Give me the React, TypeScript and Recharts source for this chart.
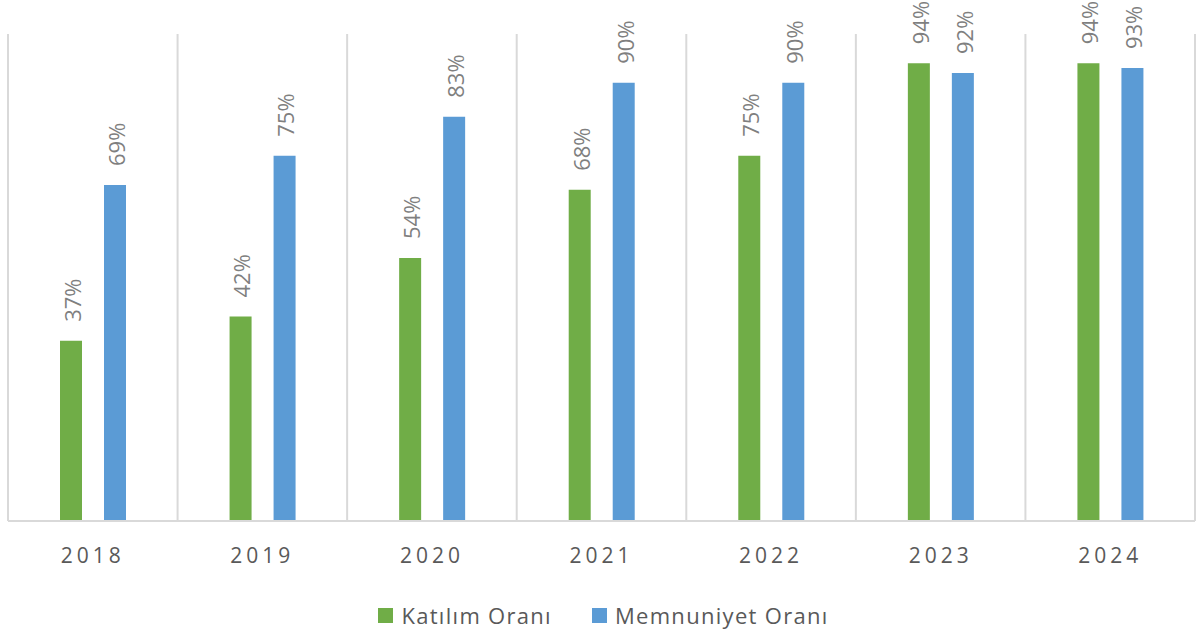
import React from "react";
import { BarChart, Bar, XAxis, YAxis, CartesianGrid, Legend, LabelList } from "recharts";

const years = ["2018", "2019", "2020", "2021", "2022", "2023", "2024"];
const katilim = [37, 42, 54, 68, 75, 94, 94];
const memnuniyet = [69, 75, 83, 90, 90, 92, 93];
const seriesNames = ["Katılım Oranı", "Memnuniyet Oranı"];
const colors = ["#70ad47", "#5b9bd5"];

const data = years.map((y, i) => ({ year: y, katilim: katilim[i], memnuniyet: memnuniyet[i] }));

const FONT = "'Open Sans', 'DejaVu Sans', sans-serif";

const RotLabel = (props: any) => {
  const { x, y, width, value } = props;
  const cx = x + width / 2 + 2;
  const cy = y - 19;
  return (
    <text
      x={cx}
      y={cy}
      transform={`rotate(-90 ${cx} ${cy})`}
      textAnchor="start"
      dy="0.36em"
      fill="#7f7f7f"
      fontSize={22}
      fontFamily={FONT}
    >
      {value}%
    </text>
  );
};

const YearTick = (props: any) => {
  const { x, y, payload } = props;
  return (
    <text
      x={x}
      y={y}
      dy={34}
      textAnchor="middle"
      fill="#595959"
      fontSize={21}
      fontFamily={FONT}
      style={{ letterSpacing: 4 }}
    >
      {payload.value}
    </text>
  );
};

const LegendContent = () => (
  <div
    style={{
      height: 40,
      display: "flex",
      justifyContent: "center",
      alignItems: "flex-start",
      paddingTop: 0,
      paddingLeft: 4,
      boxSizing: "border-box",
      fontFamily: FONT,
      fontSize: 22,
      color: "#595959",
    }}
  >
    {seriesNames.map((n, i) => (
      <div key={n} style={{ display: "flex", alignItems: "center", marginRight: i === 0 ? 40 : 0 }}>
        <span style={{ display: "inline-block", width: 15, height: 15, background: colors[i], marginRight: 8 }} />
        <span style={{ letterSpacing: 1.3 }}>{n}</span>
      </div>
    ))}
  </div>
);

export default function App() {
  return (
    <div style={{ position: "absolute", left: 0, top: 0, width: 1198, height: 640, background: "#fff" }}>
      <BarChart
        width={1198}
        height={640}
        data={data}
        margin={{ top: 34, right: 3, bottom: 0, left: 8 }}
        barSize={22}
        barGap={22}
      >
        <CartesianGrid
          horizontal={false}
          stroke="#d9d9d9"
          strokeWidth={2}
          verticalCoordinatesGenerator={({ offset }: any) =>
            years.map((_, i) => offset.left + (i * offset.width) / years.length).concat([offset.left + offset.width])
          }
        />
        <XAxis
          dataKey="year"
          height={79}
          axisLine={{ stroke: "#d9d9d9", strokeWidth: 2 }}
          tickLine={false}
          tick={<YearTick />}
          interval={0}
        />
        <YAxis hide domain={[0, 100]} />
        <Legend verticalAlign="bottom" content={<LegendContent />} />
        <Bar dataKey="katilim" name={seriesNames[0]} fill={colors[0]} isAnimationActive={false}>
          <LabelList dataKey="katilim" content={<RotLabel />} />
        </Bar>
        <Bar dataKey="memnuniyet" name={seriesNames[1]} fill={colors[1]} isAnimationActive={false}>
          <LabelList dataKey="memnuniyet" content={<RotLabel />} />
        </Bar>
      </BarChart>
    </div>
  );
}
